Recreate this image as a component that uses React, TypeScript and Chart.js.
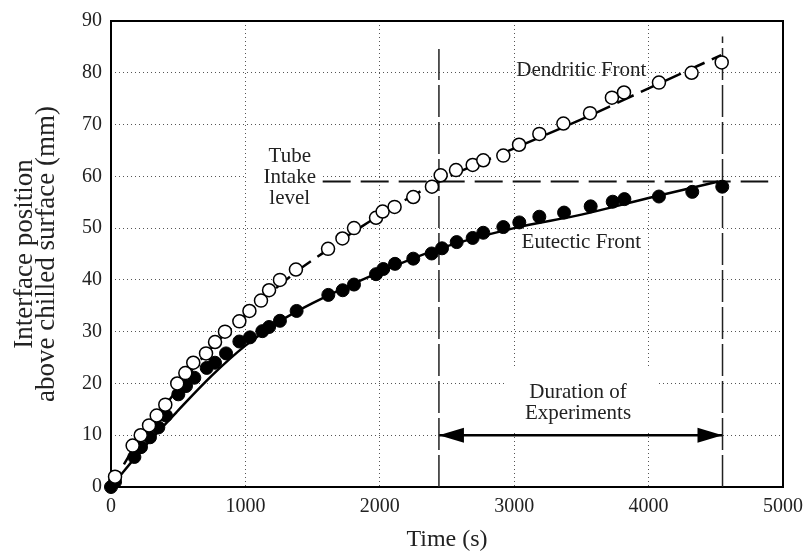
import React, { useEffect, useRef } from "react";
import { Chart, registerables } from "chart.js";

Chart.register(...registerables);

// ---- Data ----
const dendriticTime = [30, 161, 221, 283, 340, 404, 493, 553, 612, 707, 774, 848, 955, 1030, 1116, 1176, 1257, 1376, 1615, 1722, 1808, 1972, 2021, 2110, 2249, 2388, 2453, 2567, 2691, 2770, 2919, 3036, 3187, 3366, 3564, 3727, 3817, 4077, 4320, 4544];
const dendriticPos = [2, 8, 10, 11.9, 13.8, 15.9, 20, 22, 24, 25.8, 28, 30, 32, 34, 36, 38, 40, 42, 46, 48, 50, 52, 53.2, 54.1, 56, 58, 60.2, 61.2, 62.2, 63.1, 64, 66.1, 68.2, 70.2, 72.2, 75.2, 76.2, 78.1, 80, 82];

const eutecticTime = [0, 30, 174, 223, 290, 352, 409, 501, 558, 620, 712, 774, 856, 955, 1034, 1126, 1176, 1257, 1381, 1617, 1724, 1808, 1972, 2026, 2113, 2249, 2386, 2463, 2572, 2691, 2770, 2919, 3038, 3187, 3371, 3569, 3733, 3820, 4077, 4325, 4548];
const eutecticPos = [0, 1, 5.8, 7.7, 9.6, 11.5, 13.8, 17.9, 19.5, 21.1, 23, 24, 25.8, 28.1, 28.9, 30.1, 30.9, 32.1, 34, 37.1, 38, 39.1, 41.1, 42.1, 43.1, 44.1, 45.1, 46.1, 47.3, 48.1, 49.1, 50.2, 51.1, 52.2, 53, 54.2, 55.1, 55.6, 56.1, 57, 58];

const dendriticFitTime = [0, 200, 400, 600, 800, 1000, 1200, 1400, 1600, 1800, 2000, 2440, 3000, 3500, 4000, 4540];
const dendriticFitPos = [0, 8.8, 15.6, 22.5, 28.3, 33.2, 37.8, 42, 45.6, 49.2, 52.5, 59, 65.4, 71, 77, 83.4];

const eutecticFitTime = [0, 100, 250, 500, 750, 1000, 1250, 1500, 2000, 2440, 3000, 3500, 4000, 4520];
const eutecticFitPos = [0, 3.2, 7.8, 14.8, 21.5, 27.3, 31.9, 35.5, 41.5, 46, 50, 52.6, 55.8, 59];

const tubeLevel = 59;
const tubeLineTime = [1575, 4890];
const experimentStart = 2440;
const experimentEnd = 4550;
const startLineTop = 84.6;
const endLineTop = 87;
const durationArrowLevel = 10;

const xTickStep = 1000;
const yTickStep = 10;

const FONT = '"Liberation Serif", "Times New Roman", serif';

const toPoints = (xs: number[], ys: number[]) => xs.map((x, i) => ({ x, y: ys[i] }));

type Note = { lines: string[]; x: number; y: number; box?: [number, number, number, number] };
const notes: Note[] = [
  { lines: ["Dendritic Front"], x: 3500, y: 80.4 },
  { lines: ["Eutectic Front"], x: 3500, y: 47.3 },
  { lines: ["Tube", "Intake", "level"], x: 1330, y: 59.7, box: [1000, 1565, 52.5, 66.5] },
  { lines: ["Duration of", "Experiments"], x: 3475, y: 16.2, box: [2917, 4070, 10.6, 23] },
];

const annotationPlugin = {
  id: "annotations",
  beforeDatasetsDraw(chart: any) {
    const { ctx, chartArea, scales } = chart;
    const xs = scales.x, ys = scales.y;
    ctx.save();
    ctx.fillStyle = "#ffffff";
    for (const n of notes) {
      if (!n.box) continue;
      const [x0, x1, y0, y1] = n.box;
      const px0 = xs.getPixelForValue(x0), px1 = xs.getPixelForValue(x1);
      const py0 = ys.getPixelForValue(y1), py1 = ys.getPixelForValue(y0);
      ctx.fillRect(px0 + 1, py0, px1 - px0 - 2, py1 - py0);
    }
    // frame
    ctx.strokeStyle = "#000";
    ctx.lineWidth = 2;
    ctx.strokeRect(chartArea.left, chartArea.top, chartArea.right - chartArea.left, chartArea.bottom - chartArea.top);
    ctx.restore();
  },
  afterDatasetsDraw(chart: any) {
    const { ctx, scales } = chart;
    const xs = scales.x, ys = scales.y;
    ctx.save();
    // arrow heads
    const ay = ys.getPixelForValue(durationArrowLevel);
    const ax0 = xs.getPixelForValue(experimentStart);
    const ax1 = xs.getPixelForValue(experimentEnd);
    const L = 25, H = 7.5;
    ctx.fillStyle = "#000";
    ctx.beginPath();
    ctx.moveTo(ax0, ay);
    ctx.lineTo(ax0 + L, ay - H);
    ctx.lineTo(ax0 + L, ay + H);
    ctx.closePath();
    ctx.fill();
    ctx.beginPath();
    ctx.moveTo(ax1, ay);
    ctx.lineTo(ax1 - L, ay - H);
    ctx.lineTo(ax1 - L, ay + H);
    ctx.closePath();
    ctx.fill();
    // text notes
    ctx.fillStyle = "#222";
    ctx.font = `21px ${FONT}`;
    ctx.textAlign = "center";
    ctx.textBaseline = "middle";
    const lh = 21;
    for (const n of notes) {
      const cx = xs.getPixelForValue(n.x);
      const cy = ys.getPixelForValue(n.y);
      const start = cy - ((n.lines.length - 1) * lh) / 2;
      n.lines.forEach((t, i) => ctx.fillText(t, cx, start + i * lh));
    }
    ctx.restore();
  },
};

export default function App() {
  const ref = useRef<HTMLCanvasElement | null>(null);
  useEffect(() => {
    if (!ref.current) return;
    const chart = new Chart(ref.current, {
      type: "scatter",
      data: {
        datasets: [
          {
            label: "Dendritic",
            data: toPoints(dendriticTime, dendriticPos),
            pointRadius: 6.5,
            pointBackgroundColor: "#fff",
            pointBorderColor: "#000",
            pointBorderWidth: 1.5,
            showLine: false,
            clip: false as any,
            order: 0,
          },
          {
            label: "Eutectic",
            data: toPoints(eutecticTime, eutecticPos),
            pointRadius: 6.5,
            pointBackgroundColor: "#000",
            pointBorderColor: "#000",
            pointBorderWidth: 1,
            showLine: false,
            clip: false as any,
            order: 0,
          },
          {
            label: "Dendritic fit",
            data: toPoints(dendriticFitTime, dendriticFitPos),
            showLine: true,
            borderColor: "#000",
            borderWidth: 2.5,
            borderDash: [18, 8],
            pointRadius: 0,
            cubicInterpolationMode: "monotone",
            order: 2,
          },
          {
            label: "Eutectic fit",
            data: toPoints(eutecticFitTime, eutecticFitPos),
            showLine: true,
            borderColor: "#000",
            borderWidth: 2.5,
            pointRadius: 0,
            cubicInterpolationMode: "monotone",
            order: 2,
          },
          {
            label: "Tube intake level",
            data: tubeLineTime.map((x) => ({ x, y: tubeLevel })),
            showLine: true,
            borderColor: "#111",
            borderWidth: 2,
            borderDash: [28, 10],
            pointRadius: 0,
            order: 3,
          },
          {
            label: "Start",
            data: [
              { x: experimentStart, y: 0 },
              { x: experimentStart, y: startLineTop },
            ],
            showLine: true,
            borderColor: "#222",
            borderWidth: 1.5,
            borderDash: [32, 5],
            pointRadius: 0,
            order: 3,
          },
          {
            label: "End",
            data: [
              { x: experimentEnd, y: 0 },
              { x: experimentEnd, y: endLineTop },
            ],
            showLine: true,
            borderColor: "#222",
            borderWidth: 1.5,
            borderDash: [32, 5],
            pointRadius: 0,
            order: 3,
          },
          {
            label: "Duration",
            data: [
              { x: experimentStart, y: durationArrowLevel },
              { x: experimentEnd, y: durationArrowLevel },
            ],
            showLine: true,
            borderColor: "#000",
            borderWidth: 2.5,
            pointRadius: 0,
            order: 3,
          },
        ] as any,
      },
      options: {
        animation: false,
        responsive: false,
        events: [],
        layout: { padding: { top: 17, right: 28, left: 0, bottom: 0 } },
        plugins: { legend: { display: false }, tooltip: { enabled: false } },
        scales: {
          x: {
            type: "linear",
            min: 0,
            max: 5000,
            afterFit: (s: any) => {
              s.height = 69;
            },
            ticks: {
              stepSize: xTickStep,
              color: "#222",
              padding: 8,
              font: { family: FONT, size: 20 },
              callback: (v: any) => String(v),
            },
            grid: { color: "#555", lineWidth: 1, drawTicks: false },
            border: { display: false, dash: [1, 3] },
            title: {
              display: true,
              text: "Time (s)",
              color: "#222",
              font: { family: FONT, size: 24 },
              padding: { top: 0, bottom: 2 },
            },
          },
          y: {
            type: "linear",
            min: 0,
            max: 90,
            afterFit: (s: any) => {
              s.width = 111;
            },
            ticks: {
              stepSize: yTickStep,
              color: "#222",
              padding: 9,
              font: { family: FONT, size: 20 },
              callback: (v: any) => String(v),
            },
            grid: { color: "#555", lineWidth: 1, drawTicks: false },
            border: { display: false, dash: [1, 3] },
            title: {
              display: true,
              text: ["Interface position", "above chilled surface (mm)"],
              color: "#222",
              font: { family: FONT, size: 27, lineHeight: "22px" as any },
              padding: { top: 14, bottom: 0 },
            },
          },
        },
      } as any,
      plugins: [annotationPlugin],
    });
    return () => chart.destroy();
  }, []);
  return (
    <div style={{ position: "absolute", left: 0, top: 0, width: 811, height: 556, background: "#fff" }}>
      <canvas ref={ref} width={811} height={556} style={{ display: "block" }} />
    </div>
  );
}
